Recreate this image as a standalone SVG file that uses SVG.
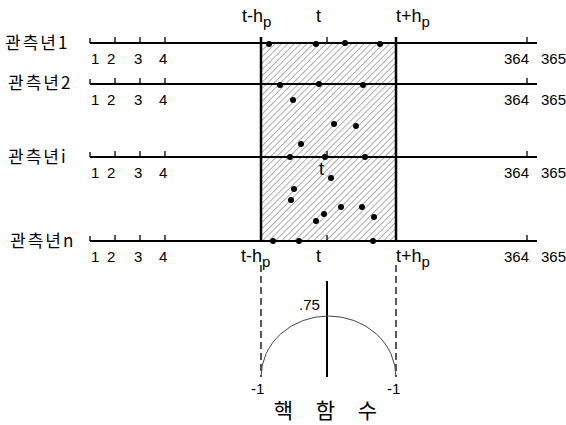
<svg xmlns="http://www.w3.org/2000/svg" width="566" height="425" viewBox="0 0 566 425">
<style>
.lbl{font-family:"Liberation Sans","Noto Sans CJK KR",sans-serif;font-size:18px;fill:#000}
.yr{font-family:"Noto Sans CJK KR",sans-serif;font-size:17px;letter-spacing:2px;fill:#000}
.num{font-family:"Liberation Sans",sans-serif;font-size:15px;fill:#000}
.axis{stroke:#000;stroke-width:2;fill:none}
.tick{stroke:#000;stroke-width:1.3;fill:none}
.dot{fill:#000}
</style>
<defs>
<pattern id="hatch" patternUnits="userSpaceOnUse" width="4.5" height="4.5" patternTransform="rotate(45)">
<line x1="0" y1="0" x2="0" y2="4.5" stroke="#333" stroke-width="0.8"/>
</pattern>
</defs>
<g id="window">
<rect x="261" y="43" width="135" height="198" fill="url(#hatch)"/>
<line x1="261" y1="37" x2="261" y2="242" stroke="#000" stroke-width="2.5"/>
<line x1="396" y1="37" x2="396" y2="242" stroke="#000" stroke-width="2.5"/>
<text class="lbl" x="242" y="22">t-h<tspan font-size="15" dy="5">p</tspan></text>
<text class="lbl" x="316" y="22">t</text>
<text class="lbl" x="396" y="22">t+h<tspan font-size="15" dy="5">p</tspan></text>
<text class="lbl" x="241" y="262">t-h<tspan font-size="15" dy="5">p</tspan></text>
<text class="lbl" x="316" y="262">t</text>
<text class="lbl" x="396" y="262">t+h<tspan font-size="15" dy="5">p</tspan></text>
</g>
<g id="year1">
<line class="axis" x1="90" y1="43" x2="537" y2="43"/>
<path class="tick" d="M90 38V43M115 37V43M140 37V43M165 37V43M327 37V43M527 37V43"/>
<text class="yr" x="5" y="49">관측년1</text>
<text class="num" x="91" y="64">1</text><text class="num" x="107" y="64">2</text><text class="num" x="134" y="64">3</text><text class="num" x="159" y="64">4</text>
<text class="num" x="504" y="64">364</text><text class="num" x="541" y="64">365</text>
</g>
<g id="year2">
<line class="axis" x1="90" y1="84" x2="537" y2="84"/>
<path class="tick" d="M90 79V84M115 78V84M140 78V84M165 78V84M527 78V84"/>
<text class="yr" x="8" y="89">관측년2</text>
<text class="num" x="91" y="105">1</text><text class="num" x="107" y="105">2</text><text class="num" x="134" y="105">3</text><text class="num" x="159" y="105">4</text>
<text class="num" x="504" y="105">364</text><text class="num" x="541" y="105">365</text>
</g>
<g id="yeari">
<line class="axis" x1="90" y1="157" x2="537" y2="157" stroke-width="1.5"/>
<path class="tick" d="M90 152V157M115 151V157M140 151V157M165 151V157M327 151V157M527 151V157"/>
<text class="yr" x="8" y="163">관측년i</text>
<text class="num" x="91" y="178">1</text><text class="num" x="107" y="178">2</text><text class="num" x="134" y="178">3</text><text class="num" x="159" y="178">4</text>
<text class="lbl" x="319" y="175">t</text>
<text class="num" x="504" y="178">364</text><text class="num" x="541" y="178">365</text>
</g>
<g id="yearn">
<line class="axis" x1="90" y1="241" x2="537" y2="241"/>
<path class="tick" d="M90 236V241M115 235V241M140 235V241M165 235V241M327 235V241M527 235V241"/>
<text class="yr" x="10" y="247">관측년n</text>
<text class="num" x="91" y="262">1</text><text class="num" x="107" y="262">2</text><text class="num" x="134" y="262">3</text><text class="num" x="159" y="262">4</text>
<text class="num" x="504" y="262">364</text><text class="num" x="541" y="262">365</text>
</g>
<g id="points">
<circle class="dot" cx="269" cy="44" r="3"/><circle class="dot" cx="316" cy="44" r="3"/><circle class="dot" cx="345" cy="43" r="3"/><circle class="dot" cx="380" cy="44" r="3"/>
<circle class="dot" cx="280" cy="85" r="3"/><circle class="dot" cx="319" cy="84" r="3"/><circle class="dot" cx="363" cy="85" r="3"/><circle class="dot" cx="293" cy="100" r="3"/>
<circle class="dot" cx="334" cy="124" r="3"/><circle class="dot" cx="356" cy="126" r="3"/><circle class="dot" cx="301" cy="144" r="3"/>
<circle class="dot" cx="290" cy="157" r="3"/><circle class="dot" cx="325" cy="157" r="3"/><circle class="dot" cx="365" cy="157" r="3"/>
<circle class="dot" cx="331" cy="178" r="3"/><circle class="dot" cx="294" cy="189" r="3"/><circle class="dot" cx="291" cy="200" r="3"/>
<circle class="dot" cx="341" cy="207" r="3"/><circle class="dot" cx="362" cy="207" r="3"/><circle class="dot" cx="324" cy="214" r="3"/><circle class="dot" cx="316" cy="221" r="3"/><circle class="dot" cx="374" cy="217" r="3"/>
<circle class="dot" cx="273" cy="241" r="3"/><circle class="dot" cx="299" cy="241" r="3"/><circle class="dot" cx="373" cy="241" r="3"/>
</g>
<g id="connectors">
<line x1="261" y1="265" x2="261" y2="377" stroke="#000" stroke-width="1.3" stroke-dasharray="7,4"/>
<line x1="396" y1="265" x2="396" y2="377" stroke="#000" stroke-width="1.3" stroke-dasharray="7,4"/>
</g>
<g id="kernel">
<line x1="327" y1="281" x2="327" y2="377" stroke="#000" stroke-width="2"/>
<path d="M261 377 A67.5 61 0 0 1 396 377" fill="none" stroke="#444" stroke-width="1"/>
<text class="num" x="299" y="310">.75</text>
<text class="num" x="251" y="394">-1</text>
<text class="num" x="387" y="394">-1</text>
<text x="327" y="418" text-anchor="middle" font-family="Noto Sans CJK KR, sans-serif" font-size="21" letter-spacing="3" word-spacing="12">핵 함 수</text>
</g>
</svg>
